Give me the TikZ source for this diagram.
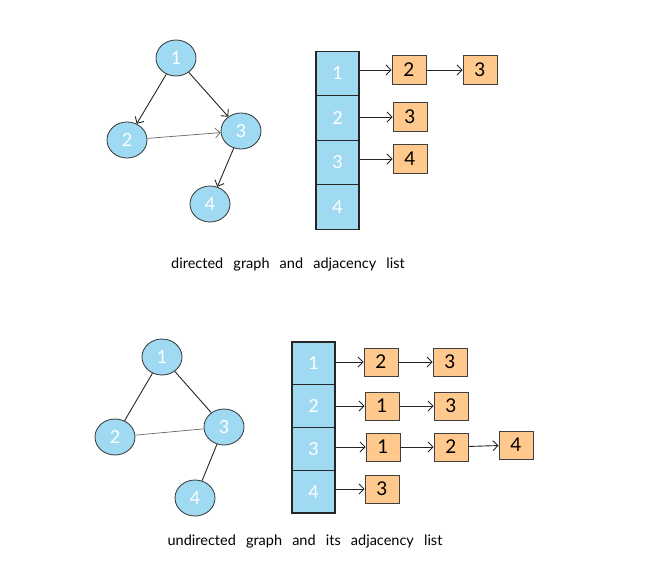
\documentclass[tikz,border=0pt]{standalone}
\usepackage{fontspec}
\setmainfont{Lato}
\usetikzlibrary{shapes.geometric, arrows, arrows.meta}
\definecolor{nodeblue}{HTML}{A0DAF2}
\definecolor{listorange}{HTML}{FFC98E}
\newcommand{\capfont}{\fontsize{14.5}{16}\selectfont\spaceskip=0.7em\relax}
\tikzstyle{vertex} = [ellipse, draw=black!80, line width=0.8pt, fill=nodeblue, minimum width=40pt, minimum height=36pt, inner sep=0pt, text=white, font=\fontsize{18}{18}\selectfont]
\tikzstyle{cell} = [rectangle, draw=black!85, line width=1.1pt, fill=nodeblue, minimum width=43pt, inner sep=0pt, text=white, font=\fontsize{18}{18}\selectfont]
\tikzstyle{entry} = [rectangle, draw=black!75, line width=0.9pt, fill=listorange, minimum width=34pt, minimum height=29pt, inner sep=0pt, font=\fontsize{19}{19}\selectfont]
\tikzstyle{arrow} = [line width=0.9pt, -{Straight Barb[length=5pt,width=10pt]}, black!85]
\tikzstyle{edge} = [line width=0.9pt, black!85]
\tikzstyle{caption} = [font=\capfont]

\begin{document}
\begin{tikzpicture}[x=1pt,y=-1pt]
\useasboundingbox (0,0) rectangle (647,582);

% directed graph
\node[vertex] (d1) at (176,58) {1};
\node[vertex] (d2) at (127,140) {2};
\node[vertex] (d3) at (241,131) {3};
\node[vertex] (d4) at (210,204) {4};
\draw[arrow] (d1) -- (d2);
\draw[arrow] (d1) -- (d3);
\draw[arrow, black!60, line width=0.7pt] (d2) -- (d3);
\draw[arrow] (d3) -- (d4);

% its adjacency list
\node[cell, minimum height=44.5pt] (da1) at (337.5,73.3) {1};
\node[cell, minimum height=44.5pt] (da2) at (337.5,117.8) {2};
\node[cell, minimum height=44.5pt] (da3) at (337.5,162.3) {3};
\node[cell, minimum height=44.5pt] (da4) at (337.5,206.8) {4};
\node[entry] (d12) at (409,70) {2};
\node[entry] (d13) at (480,70) {3};
\node[entry] (d23) at (410,117) {3};
\node[entry] (d34) at (410,159) {4};
\draw[arrow] (da1.east |- d12) -- (d12);
\draw[arrow] (d12) -- (d13);
\draw[arrow] (da2.east |- d23) -- (d23);
\draw[arrow] (da3.east |- d34) -- (d34);

\node[caption] (cap1) at (288,264) {directed graph and adjacency list};

% undirected graph
\node[vertex] (u1) at (162,357) {1};
\node[vertex] (u2) at (115,437) {2};
\node[vertex] (u3) at (224,427) {3};
\node[vertex] (u4) at (195,498) {4};
\draw[edge] (u1) -- (u2);
\draw[edge] (u1) -- (u3);
\draw[edge, black!60, line width=0.7pt] (u2) -- (u3);
\draw[edge] (u3) -- (u4);

% its adjacency list
\node[cell, minimum height=42.75pt] (ua1) at (313.5,363.4) {1};
\node[cell, minimum height=42.75pt] (ua2) at (313.5,406.1) {2};
\node[cell, minimum height=42.75pt] (ua3) at (313.5,448.9) {3};
\node[cell, minimum height=42.75pt] (ua4) at (313.5,491.6) {4};
\node[entry, minimum height=28pt] (u12) at (381,362) {2};
\node[entry, minimum height=28pt] (u13) at (450,362) {3};
\node[entry, minimum height=28pt] (u21) at (382,406) {1};
\node[entry, minimum height=28pt] (u23) at (451,406) {3};
\node[entry, minimum height=28pt] (u31) at (383,447) {1};
\node[entry, minimum height=28pt] (u32) at (451,447) {2};
\node[entry, minimum height=28pt] (u34) at (516,445) {4};
\node[entry, minimum height=28pt] (u43) at (382,489) {3};
\draw[arrow] (ua1.east |- u12) -- (u12);
\draw[arrow] (u12) -- (u13);
\draw[arrow] (ua2.east |- u21) -- (u21);
\draw[arrow] (u21) -- (u23);
\draw[arrow] (ua3.east |- u31) -- (u31);
\draw[arrow] (u31) -- (u32);
\draw[arrow] (u32) -- (u34);
\draw[arrow] (ua4.east |- u43) -- (u43);

\node[caption] (cap2) at (305,541) {undirected graph and its adjacency list};

\end{tikzpicture}
\end{document}
